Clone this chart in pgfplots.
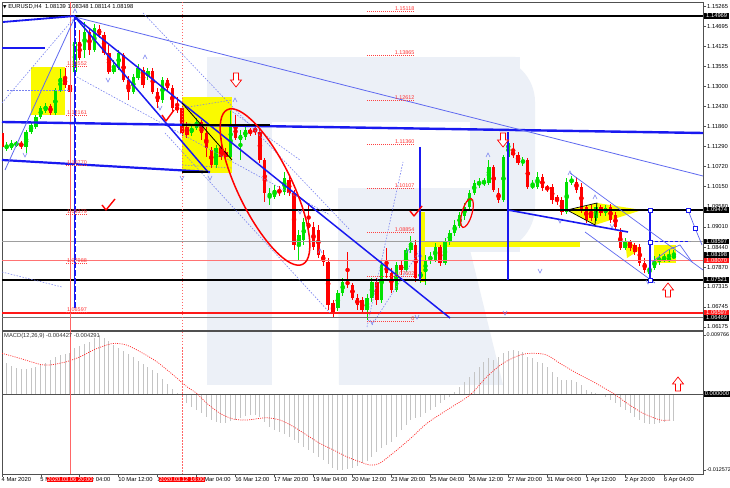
\documentclass[border=0pt]{standalone}
\usepackage{pgfplots}
\pgfplotsset{compat=1.18}
\usepackage{pgfplotstable}
\usepackage{fontspec}
\setmainfont{Liberation Sans}
\newfontfamily\symfont{DejaVu Sans}
\definecolor{cbull}{RGB}{0,225,0}
\definecolor{cbear}{RGB}{255,0,0}
\definecolor{wm}{RGB}{236,240,247}
\definecolor{mblue}{RGB}{25,25,240}
\definecolor{lblue}{RGB}{95,105,240}
\definecolor{dblue}{RGB}{120,130,240}
\definecolor{hgray}{RGB}{196,196,196}
\definecolor{fr}{RGB}{80,80,80}
\definecolor{yel}{RGB}{250,250,0}
\newcommand\tk{\fontsize{5.8}{6.2}\selectfont}
\newcommand\tkm{\fontsize{5.4}{6}\selectfont}
\newcommand\tks{\fontsize{5.4}{6}\selectfont}

\pgfplotstableread{
i o h l c
4 1.11218 1.11416 1.11161 1.11331
5 1.11246 1.11473 1.11190 1.11388
6 1.11331 1.11445 1.11274 1.11388
8 1.11274 1.11756 1.11105 1.11699
9 1.11699 1.11983 1.11643 1.11898
10 1.11841 1.12181 1.11784 1.12124
11 1.12124 1.12436 1.12068 1.12379
12 1.12294 1.12521 1.12238 1.12436
14 1.12238 1.12946 1.12181 1.12889
15 1.12889 1.13484 1.12833 1.13229
18 1.13399 1.14986 1.13343 1.14249
20 1.14022 1.14816 1.13796 1.14532
22 1.14022 1.14759 1.13966 1.14646
26 1.13399 1.13739 1.13343 1.13513
27 1.13513 1.14022 1.13456 1.13938
30 1.12833 1.13343 1.12776 1.13258
31 1.13229 1.13626 1.13173 1.13513
33 1.13286 1.13513 1.13173 1.13428
36 1.12606 1.13258 1.12521 1.13173
42 1.11671 1.11926 1.11586 1.11813
43 1.11813 1.12096 1.11756 1.11983
47 1.10765 1.11331 1.10680 1.11246
50 1.10991 1.12323 1.10935 1.11898
52 1.11473 1.11756 1.10906 1.11615
53 1.11558 1.11841 1.11473 1.11756
58 1.09858 1.10113 1.09631 1.09971
59 1.09858 1.10198 1.09801 1.10056
61 1.10000 1.10566 1.09915 1.10396
64 1.08498 1.08923 1.08073 1.08782
65 1.08640 1.09263 1.08498 1.09150
72 1.06713 1.07223 1.06628 1.07138
73 1.07138 1.07563 1.07053 1.07450
78 1.06657 1.07110 1.06373 1.06997
79 1.06997 1.07563 1.06883 1.07450
81 1.06940 1.08073 1.06855 1.07932
84 1.07223 1.08017 1.07167 1.07932
86 1.07790 1.08413 1.07733 1.08357
87 1.08357 1.08753 1.08272 1.08555
89 1.07563 1.07847 1.07422 1.07733
90 1.07733 1.08215 1.07365 1.08073
91 1.08073 1.08300 1.07960 1.08158
92 1.08073 1.08555 1.08017 1.08441
94 1.07988 1.08697 1.07932 1.08583
95 1.08583 1.08923 1.08498 1.08838
96 1.08838 1.09207 1.08753 1.09065
97 1.09036 1.09433 1.08980 1.09348
98 1.09320 1.09688 1.09207 1.09575
99 1.09575 1.10056 1.09490 1.09971
100 1.09971 1.10340 1.09915 1.10255
101 1.10198 1.10396 1.10113 1.10283
102 1.10226 1.10396 1.10170 1.10311
103 1.10255 1.10906 1.10198 1.10708
106 1.09773 1.11048 1.09716 1.10991
107 1.10991 1.11671 1.10906 1.11388
110 1.10821 1.10991 1.10736 1.10906
112 1.10141 1.10340 1.10085 1.10198
113 1.10141 1.10566 1.10085 1.10425
119 1.09433 1.10396 1.09376 1.10283
120 1.10283 1.10453 1.10198 1.10340
125 1.09263 1.09660 1.09178 1.09575
127 1.09405 1.09631 1.09320 1.09546
131 1.08413 1.08697 1.08357 1.08583
136 1.07677 1.08017 1.07592 1.07847
137 1.07847 1.08187 1.07790 1.08073
138 1.08017 1.08243 1.07932 1.08130
139 1.08073 1.08243 1.08017 1.08158
140 1.08045 1.08357 1.08017 1.08140
141 1.08139 1.08348 1.08114 1.08198
}\bull

\pgfplotstableread{
i o h l c
3 1.11671 1.11728 1.11048 1.11274
7 1.11388 1.11445 1.11218 1.11303
13 1.12436 1.12493 1.12181 1.12238
16 1.13229 1.13513 1.12946 1.13031
17 1.13031 1.13088 1.12719 1.12833
19 1.14249 1.14589 1.13739 1.13796
21 1.14532 1.14646 1.13881 1.14022
23 1.14617 1.14731 1.14362 1.14447
24 1.14447 1.14532 1.13881 1.13938
25 1.13938 1.14164 1.13343 1.13399
28 1.13881 1.13938 1.13116 1.13173
29 1.13173 1.13286 1.12606 1.12833
32 1.13456 1.13541 1.12946 1.13031
34 1.13428 1.13513 1.12776 1.12833
35 1.12833 1.12946 1.12379 1.12549
37 1.13173 1.13229 1.12833 1.12946
38 1.12946 1.13031 1.12266 1.12379
39 1.12408 1.12691 1.12238 1.12323
40 1.12379 1.12436 1.11586 1.11671
41 1.11841 1.11983 1.11530 1.11615
44 1.11983 1.12039 1.11473 1.11671
45 1.11671 1.11841 1.10991 1.11246
46 1.11190 1.11274 1.10680 1.10765
48 1.11246 1.11530 1.10906 1.10991
49 1.11133 1.11246 1.10906 1.10991
51 1.11898 1.12181 1.11473 1.11530
54 1.11756 1.11813 1.11586 1.11671
55 1.11813 1.11869 1.11615 1.11699
56 1.11699 1.11813 1.10821 1.10906
57 1.10906 1.10963 1.09716 1.09971
60 1.10056 1.10170 1.09886 1.09971
62 1.10340 1.10453 1.09886 1.09971
63 1.09971 1.10056 1.08357 1.08498
66 1.09121 1.09688 1.08866 1.08980
67 1.09008 1.09150 1.08357 1.08441
68 1.08923 1.09065 1.08130 1.08215
69 1.08215 1.08357 1.07903 1.08017
70 1.08017 1.08130 1.06657 1.06798
71 1.06855 1.06940 1.06430 1.06572
74 1.07450 1.08300 1.07280 1.07393
75 1.07365 1.07422 1.06940 1.06997
76 1.06997 1.07110 1.06657 1.06798
77 1.06940 1.07025 1.06543 1.06657
80 1.07450 1.07563 1.06798 1.06940
82 1.07932 1.08413 1.07563 1.07705
83 1.07705 1.07847 1.07138 1.07223
85 1.07932 1.08073 1.07648 1.07790
88 1.08498 1.08640 1.07450 1.07563
93 1.08441 1.08498 1.07903 1.07988
104 1.10708 1.10765 1.10000 1.10056
105 1.09971 1.10113 1.09688 1.09773
108 1.11133 1.11388 1.10963 1.11048
109 1.11048 1.11133 1.10765 1.10821
111 1.10906 1.10963 1.10085 1.10141
114 1.10425 1.10510 1.10028 1.10113
115 1.10141 1.10198 1.10000 1.10085
116 1.10141 1.10226 1.09660 1.09773
117 1.09858 1.09915 1.09631 1.09745
118 1.09773 1.09858 1.09348 1.09433
121 1.10283 1.10425 1.09971 1.10056
122 1.10141 1.10255 1.09405 1.09490
123 1.09575 1.09631 1.09121 1.09207
124 1.09433 1.09631 1.09178 1.09263
126 1.09575 1.09631 1.09320 1.09405
128 1.09575 1.09660 1.09121 1.09207
129 1.09348 1.09433 1.08951 1.09008
130 1.08866 1.08980 1.08357 1.08413
132 1.08583 1.08640 1.08328 1.08413
133 1.08498 1.08555 1.08215 1.08300
134 1.08441 1.08526 1.07903 1.07988
135 1.07988 1.08130 1.07705 1.07790
}\bear

\pgfplotstableread{
i m
3 0.00563
4 0.00513
5 0.00463
6 0.00430
7 0.00414
8 0.00414
9 0.00430
10 0.00447
11 0.00480
12 0.00513
13 0.00563
14 0.00612
15 0.00645
16 0.00662
17 0.00679
18 0.00761
19 0.00794
20 0.00828
21 0.00861
22 0.00927
23 0.00976
24 0.00927
25 0.00877
26 0.00811
27 0.00761
28 0.00712
29 0.00662
30 0.00612
31 0.00546
32 0.00497
33 0.00447
34 0.00397
35 0.00348
36 0.00248
37 0.00166
38 0.00083
39 0.00017
40 -0.00050
41 -0.00149
42 -0.00215
43 -0.00265
44 -0.00314
45 -0.00381
46 -0.00430
47 -0.00463
48 -0.00480
49 -0.00480
50 -0.00447
51 -0.00430
52 -0.00397
53 -0.00364
54 -0.00348
55 -0.00348
56 -0.00381
57 -0.00463
58 -0.00546
59 -0.00596
60 -0.00629
61 -0.00662
62 -0.00712
63 -0.00761
64 -0.00811
65 -0.00877
66 -0.00927
67 -0.00976
68 -0.01043
69 -0.01092
70 -0.01159
71 -0.01225
72 -0.01257
73 -0.01257
74 -0.01241
75 -0.01225
76 -0.01192
77 -0.01142
78 -0.01109
79 -0.01043
80 -0.00960
81 -0.00894
82 -0.00844
83 -0.00794
84 -0.00712
85 -0.00596
86 -0.00513
87 -0.00430
88 -0.00397
89 -0.00381
90 -0.00314
91 -0.00265
92 -0.00215
93 -0.00149
94 -0.00099
95 -0.00050
96 0.00033
97 0.00116
98 0.00199
99 0.00281
100 0.00364
101 0.00447
102 0.00530
103 0.00596
104 0.00563
105 0.00612
106 0.00679
107 0.00712
108 0.00728
109 0.00712
110 0.00695
111 0.00612
112 0.00596
113 0.00530
114 0.00513
115 0.00447
116 0.00364
117 0.00281
118 0.00232
119 0.00232
120 0.00232
121 0.00199
122 0.00149
123 0.00066
124 0.00033
125 0.00017
126 -0.00017
127 -0.00050
128 -0.00099
129 -0.00149
130 -0.00215
131 -0.00265
132 -0.00314
133 -0.00381
134 -0.00430
135 -0.00480
136 -0.00497
137 -0.00497
138 -0.00480
139 -0.00463
140 -0.00447
141 -0.004427
}\macd

\pgfplotstableread{
i s
3 0.00674
6.7 0.00591
10.8 0.00492
12.9 0.00480
16.3 0.00535
19.1 0.00617
21.8 0.00728
24.5 0.00811
26.2 0.00839
28.6 0.00811
31.4 0.00700
34.8 0.00535
38.2 0.00314
41 0.00121
43 0.00012
45.1 -0.00154
47.8 -0.00319
50.5 -0.00414
53.3 -0.00430
56 -0.00402
57.4 -0.00392
60.1 -0.00430
62.9 -0.00541
65.6 -0.00679
68.3 -0.00816
71.1 -0.00927
73.8 -0.01038
76.6 -0.01125
78.6 -0.01175
80.5 -0.01150
83.3 -0.00981
86.8 -0.00745
90.3 -0.00485
94.4 -0.00265
99.1 -0.00017
102.6 0.00286
105.9 0.00508
109.4 0.00645
112.1 0.00674
114.9 0.00645
117.6 0.00508
121.1 0.00343
124.4 0.00204
128.5 0.00012
131.4 -0.00154
134.7 -0.00319
138.2 -0.00430
140.2 -0.004291
}\sig

\newcommand\darrow[2]{\draw[red, line width=0.7pt, fill=white] ({#1-2.5},{#2}) -- ({#1+2.5},{#2}) -- ({#1+2.5},{#2+7}) -- ({#1+5.5},{#2+7}) -- ({#1},{#2+14}) -- ({#1-5.5},{#2+7}) -- ({#1-2.5},{#2+7}) -- cycle;}
\newcommand\uarrow[2]{\draw[red, line width=0.7pt, fill=white] ({#1-2.5},{#2}) -- ({#1+2.5},{#2}) -- ({#1+2.5},{#2-7}) -- ({#1+5.5},{#2-7}) -- ({#1},{#2-14}) -- ({#1-5.5},{#2-7}) -- ({#1-2.5},{#2-7}) -- cycle;}
\newcommand\fib[2]{\draw[red!75, line width=0.5pt, dash pattern=on 1pt off 1pt] (367,#1) -- (415,#1); \node[anchor=south east, inner sep=0.5pt, text=red!80, font=\tks] at (415,#1) {#2};}
\newcommand\lfib[2]{\draw[red!75, line width=0.5pt, dash pattern=on 1pt off 1pt] (66,#1) -- (88,#1); \node[anchor=south, inner sep=0.5pt, text=red!80, font=\tks] at (77,#1) {#2};}
\newcommand\bbox[2]{\node[anchor=west, fill=black, text=white, inner sep=0.7pt, minimum width=25pt, font=\tk] at (704,#1) {#2};}
\newcommand\rbox[2]{\node[anchor=west, fill=red!90, text=white, inner sep=0.7pt, minimum width=25pt, font=\tk] at (704,#1) {#2};}
\newcommand\bmark[2]{\draw[dblue, line width=0.6pt] ({#1-2},{#2+2}) -- ({#1},{#2-2}) -- ({#1+2},{#2+2});}
\newcommand\tmark[2]{\draw[dblue, line width=0.6pt] ({#1-2},{#2-2}) -- ({#1},{#2+2}) -- ({#1+2},{#2-2});}

\begin{document}
\begin{tikzpicture}[x=1pt,y=1pt]
\fill[white] (0,0) rectangle (730,487);
\path[use as bounding box] (0,0) rectangle (730,487);
% watermark and background fills (pixel coordinates, y downward)
\begin{scope}[shift={(0,487)}, yscale=-1]
\fill[wm] (207,57) rectangle (272,385);
\fill[wm] (272,57) rectangle (520,122);
\fill[wm] (338,188) rectangle (520,252);
\fill[wm, rounded corners=45pt] (470,57) rectangle (535,252);
\fill[wm] (338,250) -- (470,250) -- (503,385) -- (339,385) -- cycle;
% yellow shapes
\fill[yel] (31,67) rectangle (65,115);
\fill[yel] (182,97) rectangle (232,173);
\fill[yel] (420,212) rectangle (425,282);
\fill[yel] (425,241) rectangle (580,247);
\fill[yel] (567,210) -- (597,203) -- (642,210) -- (595,225) -- cycle;
\fill[yel] (625,240) -- (641,249) -- (627,258) -- cycle;
\fill[yel] (654,245) rectangle (676,263);
\end{scope}

% main price axis
\begin{axis}[
  at={(2pt,157pt)}, anchor=south west, scale only axis,
  width=701pt, height=328pt,
  xmin=3.04, xmax=146.98, ymin=1.06090, ymax=1.15382,
  scaled y ticks=false, scaled x ticks=false,
  axis line style={draw=fr, line width=0.7pt},
  xtick=\empty,
  ytick={1.06175,1.06745,1.07315,1.07870,1.08440,1.09010,1.09580,1.10150,1.10720,1.11290,1.11860,1.12430,1.13000,1.13555,1.14125,1.14695,1.15265},
  yticklabels={1.06175,1.06745,1.07315,1.07870,1.08440,1.09010,1.09580,1.10150,1.10720,1.11290,1.11860,1.12430,1.13000,1.13555,1.14125,1.14695,1.15265},
  ytick pos=right, yticklabel pos=right, tick align=outside,
  major tick length=3pt, tick style={draw=fr, line width=0.5pt},
  yticklabel style={font=\tk, text=black, inner sep=1pt},
]
\addplot[color=cbull, only marks, mark=none, forget plot, error bars/.cd, y dir=both, y explicit, error mark=none,
  error bar style={draw=cbull, line width=0.9pt}]
  table[x=i, y expr={(\thisrow{h}+\thisrow{l})/2}, y error expr={(\thisrow{h}-\thisrow{l})/2}] {\bull};
\addplot[color=cbull, only marks, mark=none, forget plot, error bars/.cd, y dir=both, y explicit, error mark=none,
  error bar style={draw=cbull, line width=3.4pt}]
  table[x=i, y expr={(\thisrow{o}+\thisrow{c})/2}, y error expr={abs(\thisrow{c}-\thisrow{o})/2}] {\bull};
\addplot[color=cbear, only marks, mark=none, forget plot, error bars/.cd, y dir=both, y explicit, error mark=none,
  error bar style={draw=cbear, line width=0.9pt}]
  table[x=i, y expr={(\thisrow{h}+\thisrow{l})/2}, y error expr={(\thisrow{h}-\thisrow{l})/2}] {\bear};
\addplot[color=cbear, only marks, mark=none, forget plot, error bars/.cd, y dir=both, y explicit, error mark=none,
  error bar style={draw=cbear, line width=3.4pt}]
  table[x=i, y expr={(\thisrow{o}+\thisrow{c})/2}, y error expr={abs(\thisrow{c}-\thisrow{o})/2}] {\bear};
\end{axis}

% MACD axis
\begin{axis}[
  at={(2pt,13pt)}, anchor=south west, scale only axis,
  width=701pt, height=143pt,
  xmin=3.04, xmax=146.98, ymin=-0.01324, ymax=0.01043,
  scaled y ticks=false, scaled x ticks=false,
  axis line style={draw=fr, line width=0.7pt},
  ytick={-0.012572,0.009766}, yticklabels={-0.012572,0.009766},
  ytick pos=right, yticklabel pos=right,
  xtick={3.04,11,19,27,35,43,51,59,67,75,83,91,99,107,115,123,131,139},
  xticklabels={4 Mar 2020,5 Mar 20:00,9 Mar 04:00,10 Mar 12:00,11 Mar 20:00,13 Mar 04:00,16 Mar 12:00,17 Mar 20:00,19 Mar 04:00,20 Mar 12:00,23 Mar 20:00,25 Mar 04:00,26 Mar 12:00,27 Mar 20:00,31 Mar 04:00,1 Apr 12:00,2 Apr 20:00,6 Apr 04:00},
  xtick pos=bottom, tick align=outside, major tick length=3pt,
  tick style={draw=fr, line width=0.5pt},
  xticklabel style={font=\tk, text=black, anchor=north west, inner sep=0.5pt, xshift=-1pt},
  yticklabel style={font=\tkm, text=black, inner sep=0.3pt},
]
\addplot[ycomb, mark=none, draw=hgray, line width=1pt] table[x=i, y=m] {\macd};
\draw[fr, line width=0.8pt] (axis cs:3.04,0) -- (axis cs:146.98,0);
\addplot[mark=none, draw=red!85, line width=0.7pt, dash pattern=on 1pt off 1.2pt, smooth] table[x=i, y=s] {\sig};
\end{axis}

% overlay objects (pixel coordinates, y downward)
\begin{scope}[shift={(0,487)}, yscale=-1]
% horizontal levels
\draw[black, line width=1.8pt] (2,16) -- (703,16);
\draw[black, line width=1.4pt] (2,210) -- (703,210);
\draw[black!38, line width=1.8pt] (2,241.5) -- (703,241.5);
\draw[red!55, line width=0.8pt] (2,260) -- (703,260);
\draw[black, line width=1.8pt] (2,280) -- (703,280);
\draw[red!90, line width=1.1pt] (2,313) -- (703,313);
\draw[black!55, line width=0.8pt] (2,317.5) -- (703,317.5);
% time markers
\draw[red!60, line width=0.8pt] (70,2) -- (70,474);
\draw[red!60, line width=0.8pt, dash pattern=on 1.5pt off 1.5pt] (182,2) -- (182,474);
% dotted construction lines
\begin{scope}[dblue, line width=0.6pt, dash pattern=on 1.5pt off 1.5pt]
\draw (2,103) -- (75,17);
\draw (7,90) -- (70,90);
\draw (143,13) -- (350,230);
\draw (77,77) -- (330,215);
\draw (165,133) -- (330,313);
\draw (367,327) -- (403,162);
\draw (372,325) -- (420,250);
\draw (2,272) -- (62,287);
\draw (182,108) -- (232,100);
\draw (182,165) -- (232,168);
\draw (230,110) -- (300,160);
\end{scope}
% small arrow marks
\bmark{75}{11}\bmark{145}{57}\bmark{235}{100}\bmark{320}{251}\bmark{408}{251}\bmark{420}{255}\bmark{488}{155}\bmark{595}{197}\bmark{570}{173}
\tmark{25}{155}\tmark{108}{80}\tmark{160}{108}\tmark{182}{178}\tmark{210}{178}\tmark{300}{212}\tmark{372}{322}\tmark{417}{317}\tmark{505}{313}\tmark{540}{271}\tmark{560}{221}\tmark{612}{226}\tmark{648}{282}
% blue trend lines
\draw[mblue, line width=2.4pt] (2,122) -- (703,133);
\draw[mblue, line width=2.2pt] (2,160) -- (210,172);
\draw[mblue, line width=1.8pt] (3,22) -- (75,16);
\draw[mblue, line width=1.8pt] (2,48) -- (45,48);
\draw[lblue, line width=0.8pt] (75,17) -- (703,176);
\draw[lblue, line width=0.8pt] (5,170) -- (75,17);
\draw[mblue, line width=2.4pt] (75,17) -- (75,308);
\draw[white, line width=0.8pt, dash pattern=on 2pt off 6pt] (75,20) -- (75,305);
\draw[mblue, line width=1.5pt] (75,17) -- (450,318);
\draw[mblue, line width=1.5pt] (75,17) -- (208,172);
\draw[black, line width=1.5pt] (182,125) -- (270,125);
\draw[black, line width=0.8pt] (182,103) -- (232,160);
\draw[black, line width=1.2pt] (182,172) -- (208,172);
\draw[mblue, line width=1.2pt] (420,147) -- (420,280);
\draw[mblue, line width=2pt] (508,132) -- (508,280);
\draw[mblue, line width=1.6pt] (508,210) -- (628,232);
\draw[black, line width=0.7pt] (567,210) -- (597,203) -- (595,225) -- cycle;
\draw[mblue, line width=1.8pt] (650,210) -- (650,280);
\draw[mblue, line width=1pt, dash pattern=on 3pt off 2pt] (650,242) -- (690,242);
\draw[lblue, line width=0.7pt] (570,173) -- (703,270);
\draw[lblue, line width=0.7pt] (585,232) -- (655,283);
\draw[lblue, line width=0.7pt] (652,262) -- (668,250) -- (680,245) -- (692,262);
\draw[lblue, line width=0.7pt] (688,210) -- (695,228) -- (702,245);
\foreach \yy in {210,242,280} {\draw[mblue, fill=white, line width=0.6pt] (648,{\yy-2}) rectangle (652,{\yy+2});}
\draw[mblue, fill=white, line width=0.6pt] (686,208) rectangle (690,212);
\draw[mblue, fill=white, line width=0.6pt] (693,226) rectangle (697,230);
% red marks
\draw[red, line width=1.5pt, rotate around={64:(265,187)}] (265,187) ellipse [x radius=86, y radius=27];
\draw[red, line width=1.2pt, rotate around={106:(467,213)}] (467,213) ellipse [x radius=15, y radius=5];
\draw[red, line width=1.4pt, line join=round] (102,205) -- (106,210) -- (115,199);
\draw[red, line width=1.4pt, line join=round] (162,115) -- (166,121) -- (174,110);
\draw[red, line width=1.4pt, line join=round] (410,211) -- (414,216) -- (422,206);
\darrow{236}{73}
\darrow{503}{133}
\uarrow{668}{297}
\uarrow{678}{391}
% fibonacci labels
\fib{11.3}{1.15118}
\fib{55.6}{1.13865}
\fib{99.8}{1.12612}
\fib{144}{1.11360}
\fib{188.3}{1.10107}
\fib{232.4}{1.08854}
\fib{276.6}{1.07602}
\fib{320.8}{0}
\lfib{66.6}{1.13552}
\lfib{115.7}{1.12161}
\lfib{164.8}{1.10770}
\lfib{213.9}{1.09379}
\lfib{263}{1.07988}
\lfib{312}{1.06597}
% price labels on the right
\bbox{16}{1.14969}
\bbox{210}{1.09474}
\bbox{241.5}{1.08597}
\bbox{255}{1.08198}
\rbox{260.5}{1.08070}
\bbox{280}{1.07521}
\rbox{312.5}{1.06597}
\bbox{318}{1.06469}
\bbox{394}{0.000000}
% time boxes
\node[fill=red, text=white, inner sep=0.8pt, font=\tk] at (70,479.5) {2020.03.06 20:00};
\node[fill=red, text=white, inner sep=0.8pt, font=\tk] at (182,479.5) {2020.03.12 16:00};
% headers
\node[anchor=west, inner sep=0pt, font=\tk] at (3,6.5) {{\symfont\fontsize{4.5}{5}\selectfont ▼}\ EURUSD,H4\ \ 1.08139 1.08348 1.08114 1.08198};
\node[anchor=west, inner sep=0pt, font=\tk, text=black!80] at (4,336) {MACD(12,26,9) -0.004427 -0.004291};
\end{scope}
\end{tikzpicture}
\end{document}
